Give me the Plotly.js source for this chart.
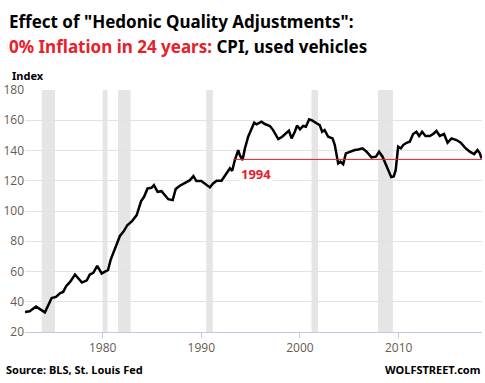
<!DOCTYPE html>
<html>
<head>
<meta charset="utf-8">
<script src="https://cdn.plot.ly/plotly-3.0.1.min.js"></script>
<style>html,body{margin:0;padding:0;background:#fff;}#chart{width:485px;height:383px;}</style>
</head>
<body>
<div id="chart"></div>
<script>
// Decimal years (x) and CPI used vehicles index values (y)
const years = [1972.13,1972.6,1973.25,1973.7,1974.15,1974.83,1975.27,1975.7,1976.0,1976.3,1976.7,1977.2,1977.9,1978.4,1978.7,1979.05,1979.45,1979.9,1980.4,1980.55,1980.8,1981.1,1981.4,1981.75,1982.1,1982.5,1983.0,1983.45,1983.9,1984.2,1984.55,1984.95,1985.2,1985.57,1985.97,1986.3,1986.65,1987.1,1987.4,1987.83,1988.3,1988.85,1989.2,1989.5,1990.0,1990.37,1990.87,1991.2,1991.55,1992.05,1992.56,1992.9,1993.13,1993.4,1993.74,1993.9,1994.18,1994.42,1994.75,1995.03,1995.36,1995.6,1996.1,1996.44,1996.95,1997.28,1997.8,1998.2,1998.64,1998.88,1999.15,1999.48,1999.7,2000.0,2000.33,2000.6,2000.93,2001.27,2001.68,2002.0,2002.25,2002.5,2002.86,2003.3,2003.53,2003.77,2003.87,2004.1,2004.38,2004.65,2005.06,2005.56,2005.9,2006.34,2006.75,2007.25,2007.7,2008.02,2008.37,2008.78,2009.04,2009.25,2009.5,2009.7,2009.95,2010.22,2010.46,2010.8,2011.13,2011.47,2011.8,2012.08,2012.38,2012.72,2013.16,2013.5,2013.84,2014.17,2014.6,2014.96,2015.36,2015.86,2016.3,2016.7,2017.21,2017.65,2017.99,2018.23,2018.4];
const cpiUsedVehicles = [33.2,33.7,36.8,35.0,33.0,42.5,43.2,45.8,46.5,50.3,53.1,58.0,52.7,54.2,58.0,59.1,63.7,58.7,60.2,61.0,67.5,72.5,77.0,83.5,86.2,90.6,93.5,97.3,106.5,109.4,114.9,115.3,117.1,112.7,113.1,110.5,107.8,107.2,114.5,116.7,118.2,120.4,123.1,119.8,119.8,118.2,115.6,118.2,120.0,120.0,124.9,128.2,126.6,133.7,140.3,137.0,133.7,141.4,149.1,153.5,158.4,157.3,159.0,157.5,156.2,153.5,147.6,149.1,151.3,153.1,148.0,152.4,156.5,154.0,156.2,155.7,160.6,159.7,158.0,156.8,152.4,153.5,149.1,148.0,143.6,133.7,131.5,132.6,131.0,138.1,139.2,140.3,140.7,141.4,139.2,135.5,135.9,139.2,135.9,129.2,125.9,122.4,122.8,127.0,142.5,141.4,143.6,145.1,145.8,150.9,152.4,149.6,152.4,149.6,149.6,150.9,152.9,149.6,150.9,145.1,148.0,146.9,145.1,142.1,139.2,137.6,140.3,138.1,134.8];

// Recession periods (start, end) in decimal years
const recessionStart = [1973.83, 1980.0, 1981.55, 1990.5, 2001.17, 2007.92];
const recessionEnd   = [1975.17, 1980.5, 1982.83, 1991.17, 2001.83, 2009.42];

// 1994 reference level
const refLabel = "1994";
const refLevel = 134.1;
const refStart = 1993.25;
const xRange = [1972.13, 2018.45];
const yRange = [20, 180];
const xTicks = [1980, 1990, 2000, 2010];
const xTickText = ["1980", "1990", "2000", "2010"];

const shapes = recessionStart.map((s, i) => ({
  type: 'rect', xref: 'x', yref: 'paper', x0: s, x1: recessionEnd[i], y0: 0, y1: 1,
  fillcolor: '#e5e5e5', line: {width: 0}, layer: 'between'
}));
shapes.push({type: 'line', xref: 'x', yref: 'y', x0: refStart, x1: xRange[1], y0: refLevel, y1: refLevel,
  line: {color: '#e8202a', width: 1}, layer: 'above'});

const tickFont = {family: 'Open Sans, sans-serif', size: 12, color: '#665a50'};
const boldFont = 'Noto Sans, sans-serif';

const data = [{
  x: years, y: cpiUsedVehicles, type: 'scatter', mode: 'lines',
  line: {color: '#000000', width: 2.5, shape: 'linear'}, hoverinfo: 'skip'
}];

const layout = {
  width: 485, height: 383,
  margin: {l: 25, r: 3, t: 90, b: 51},
  paper_bgcolor: '#ffffff', plot_bgcolor: '#ffffff',
  showlegend: false,
  xaxis: {range: xRange, tickvals: xTicks, ticktext: xTickText, showgrid: false, zeroline: false,
    showline: true, linecolor: '#c3cbdc', linewidth: 1, ticks: 'outside', ticklen: 5, tickcolor: '#c3cbdc',
    tickfont: tickFont},
  yaxis: {range: yRange, dtick: 20, tick0: 20, showgrid: true, gridcolor: '#e2e2e2', gridwidth: 1, zeroline: false,
    showline: false, ticks: '', tickfont: tickFont, ticklabelstandoff: 0},
  shapes: shapes,
  annotations: [
    {xref: 'paper', yref: 'paper', x: -0.04, y: 1.285, xanchor: 'left', yanchor: 'middle', showarrow: false,
     text: 'Effect of "Hedonic Quality Adjustments":', font: {family: boldFont, size: 17, color: '#000', weight: 'bold'}},
    {xref: 'paper', yref: 'paper', x: -0.04, y: 1.178, xanchor: 'left', yanchor: 'middle', showarrow: false,
     text: '<span style="color:#e8202a">0% Inflation in 24 years:</span> CPI, used vehicles', font: {family: boldFont, size: 17, color: '#000', weight: 'bold'}},
    {xref: 'paper', yref: 'paper', x: -0.033, y: 1.058, xanchor: 'left', yanchor: 'middle', showarrow: false,
     text: 'Index', font: {family: boldFont, size: 11, color: '#000', weight: 'bold'}},
    {xref: 'x', yref: 'y', x: 1995.5, y: 124.4, xanchor: 'center', yanchor: 'middle', showarrow: false,
     text: refLabel, bgcolor: '#ffffff', borderpad: 1, font: {family: boldFont, size: 13, color: '#e8202a', weight: 'bold'}},
    {xref: 'paper', yref: 'paper', x: -0.046, y: -0.157, xanchor: 'left', yanchor: 'middle', showarrow: false,
     text: 'Source: BLS, St. Louis Fed', font: {family: boldFont, size: 11, color: '#000', weight: 'bold'}},
    {xref: 'paper', yref: 'paper', x: 1.0, y: -0.157, xanchor: 'right', yanchor: 'middle', showarrow: false,
     text: 'WOLFSTREET.com', font: {family: boldFont, size: 11, color: '#000', weight: 'bold'}}
  ]
};

Plotly.newPlot('chart', data, layout, {staticPlot: true, displayModeBar: false});
</script>
</body>
</html>
